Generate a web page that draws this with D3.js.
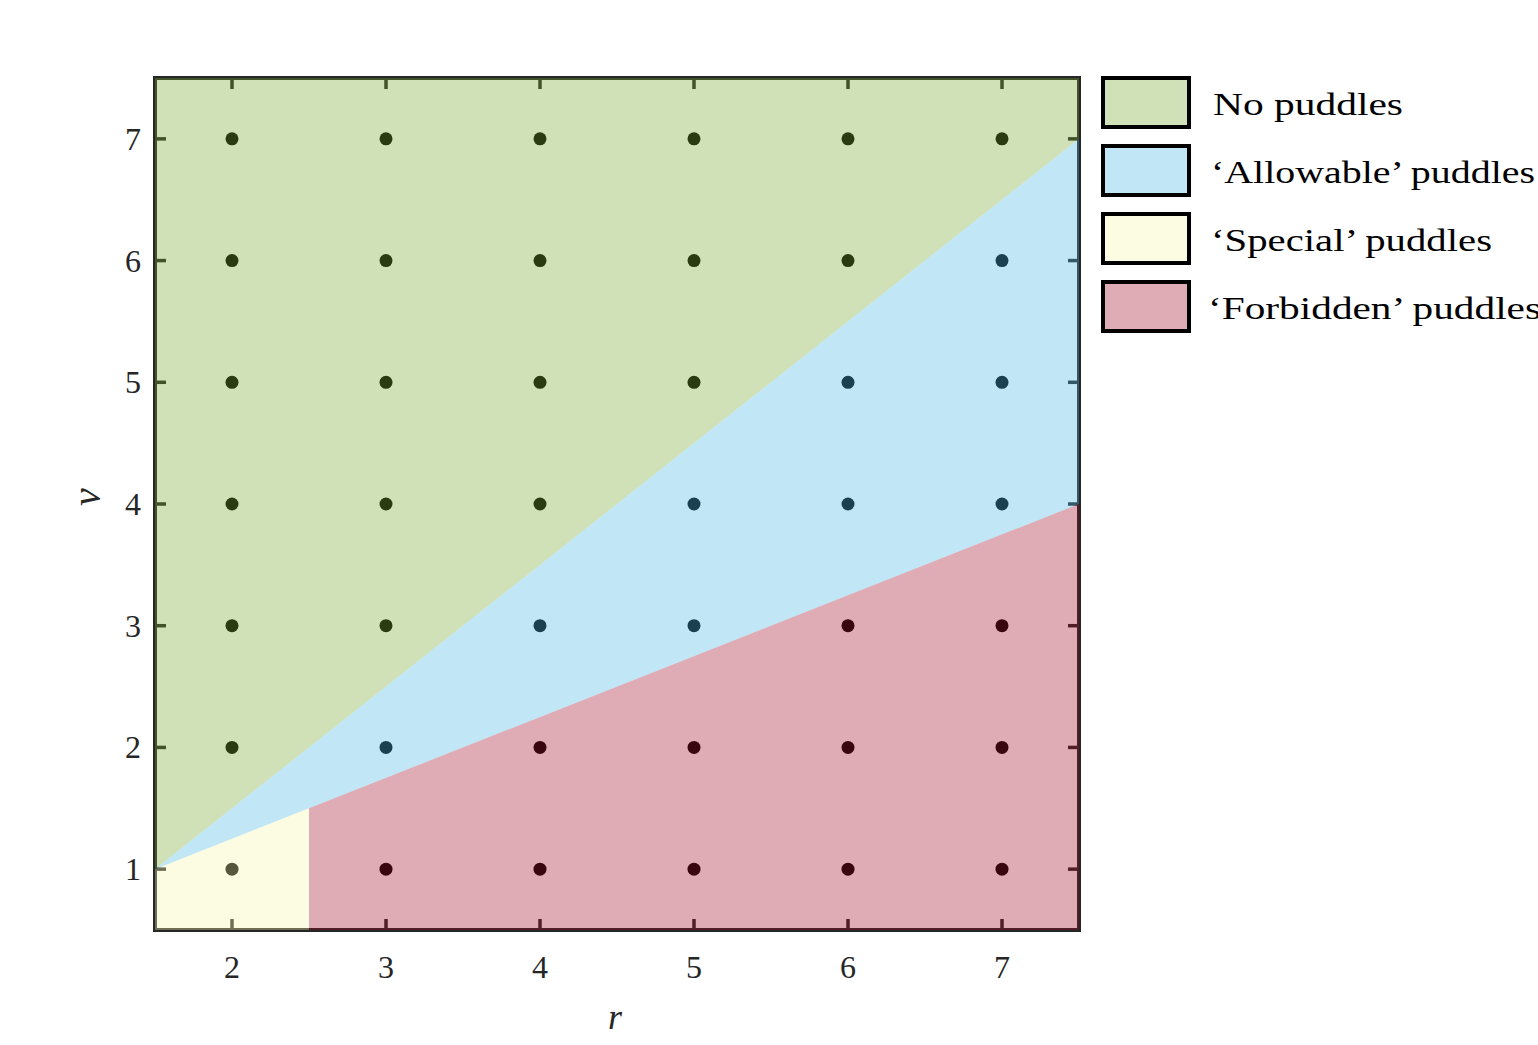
<!DOCTYPE html>
<html><head><meta charset="utf-8">
<script src="https://cdn.jsdelivr.net/npm/d3@7"></script>
<style>body{margin:0;background:#fff}svg{display:block}</style>
</head><body>
<script>
// Data
const rTicks = [2, 3, 4, 5, 6, 7];
const nuTicks = [1, 2, 3, 4, 5, 6, 7];
const rValues = [2, 3, 4, 5, 6, 7];
const nuValues = [1, 2, 3, 4, 5, 6, 7];
const regionNames = ["No puddles", "\u2018Allowable\u2019 puddles", "\u2018Special\u2019 puddles", "\u2018Forbidden\u2019 puddles"];
const regionColors = ["#79a934", "#4ebae8", "#f3f6ac", "#a4122b"];
// region polygons in data coordinates [r, nu]
const noPuddles = [[1.5, 1], [7.5, 7], [7.5, 7.5], [1.5, 7.5]];
const allowable = [[1.5, 1], [7.5, 7], [7.5, 4]];
const special = [[1.5, 0.5], [1.5, 1], [2.5, 1.5], [2.5, 0.5]];
const forbidden = [[2.5, 0.5], [2.5, 1.5], [7.5, 4], [7.5, 0.5]];
const regions = [noPuddles, allowable, special, forbidden];

const W = 1538, H = 1045;
const svg = d3.select("body").append("svg").attr("width", W).attr("height", H);
const x = d3.scaleLinear().domain([1.5, 7.5]).range([155, 1079]);
const y = d3.scaleLinear().domain([0.5, 7.5]).range([930, 78]);
const dark = "#262626";
const font = "'Liberation Serif', 'Times New Roman', serif";
const alpha = 0.35;

svg.append("defs").append("clipPath").attr("id", "clip")
  .append("rect").attr("x", x(1.5)).attr("y", y(7.5)).attr("width", x(7.5) - x(1.5)).attr("height", y(0.5) - y(7.5));

// ticks on all four sides (inward)
const tl = 11, tw = 3.5;
const g = svg.append("g");
rTicks.forEach(v => {
  g.append("line").attr("x1", x(v)).attr("x2", x(v)).attr("y1", y(0.5)).attr("y2", y(0.5) - tl).attr("stroke", dark).attr("stroke-width", tw);
  g.append("line").attr("x1", x(v)).attr("x2", x(v)).attr("y1", y(7.5)).attr("y2", y(7.5) + tl).attr("stroke", dark).attr("stroke-width", tw);
});
nuTicks.forEach(v => {
  g.append("line").attr("x1", x(1.5)).attr("x2", x(1.5) + tl).attr("y1", y(v)).attr("y2", y(v)).attr("stroke", dark).attr("stroke-width", tw);
  g.append("line").attr("x1", x(7.5)).attr("x2", x(7.5) - tl).attr("y1", y(v)).attr("y2", y(v)).attr("stroke", dark).attr("stroke-width", tw);
});

// points
const pts = [];
rValues.forEach(r => nuValues.forEach(n => pts.push([r, n])));
svg.append("g").selectAll("circle").data(pts).join("circle")
  .attr("cx", d => x(d[0])).attr("cy", d => y(d[1])).attr("r", 6.5).attr("fill", "#000");

// frame
svg.append("rect").attr("x", x(1.5)).attr("y", y(7.5)).attr("width", x(7.5) - x(1.5)).attr("height", y(0.5) - y(7.5))
  .attr("fill", "none").attr("stroke", dark).attr("stroke-width", 4);

// region overlays
const line = d3.line().x(d => x(d[0])).y(d => y(d[1]));
svg.append("g").attr("clip-path", "url(#clip)").selectAll("path").data(regions).join("path")
  .attr("d", d => line(d) + "Z")
  .attr("fill", (d, i) => regionColors[i]).attr("fill-opacity", alpha);

// tick labels
svg.append("g").selectAll("text").data(rTicks).join("text")
  .attr("x", d => x(d)).attr("y", 978).attr("text-anchor", "middle")
  .attr("font-family", font).attr("font-size", 32).attr("fill", dark).text(d => d);
svg.append("g").selectAll("text").data(nuTicks).join("text")
  .attr("x", 141).attr("y", d => y(d) + 11).attr("text-anchor", "end")
  .attr("font-family", font).attr("font-size", 32).attr("fill", dark).text(d => d);

// axis labels
svg.append("text").attr("x", 615).attr("y", 1029).attr("text-anchor", "middle")
  .attr("font-family", font).attr("font-style", "italic").attr("font-size", 36).attr("fill", dark).text("r");
svg.append("text").attr("transform", "translate(100,497) rotate(-90)").attr("text-anchor", "middle")
  .attr("font-family", font).attr("font-style", "italic").attr("font-size", 40).attr("fill", dark).text("\u03bd");

// legend
const legX = 1103, legY0 = 78, legStep = 68;
const textStarts = [1213, 1211, 1211, 1208];
const textEnds = [1403, 1535, 1492, 1541];
const lg = svg.append("g");
regionNames.forEach((name, i) => {
  const yy = legY0 + i * legStep;
  lg.append("rect").attr("x", legX).attr("y", yy).attr("width", 86).attr("height", 49)
    .attr("fill", "#fff").attr("stroke", "none");
  lg.append("rect").attr("x", legX).attr("y", yy).attr("width", 86).attr("height", 49)
    .attr("fill", regionColors[i]).attr("fill-opacity", alpha)
    .attr("stroke", "#000").attr("stroke-width", 4);
  lg.append("text").attr("x", textStarts[i]).attr("y", yy + 37)
    .attr("font-family", font).attr("font-size", 32).attr("fill", "#000")
    .attr("textLength", textEnds[i] - textStarts[i]).attr("lengthAdjust", "spacingAndGlyphs")
    .text(name);
});
</script>
</body></html>
